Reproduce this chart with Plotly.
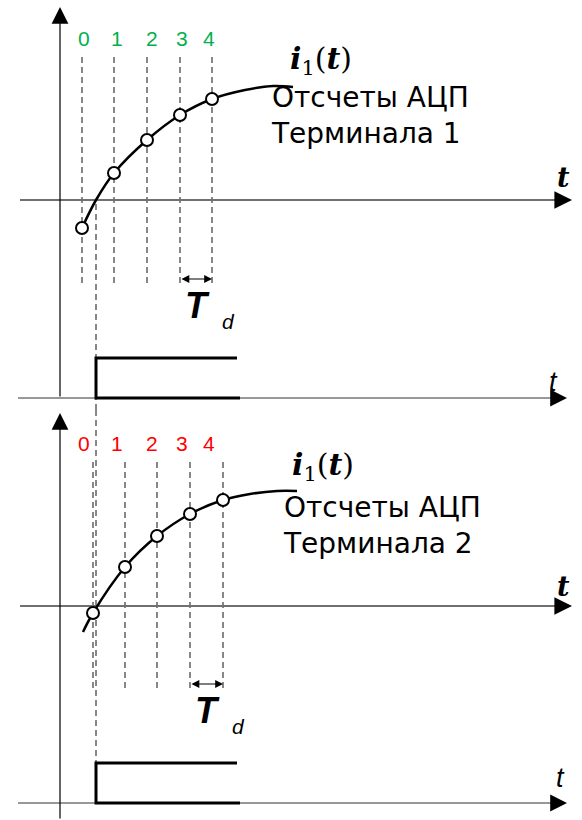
import plotly.graph_objects as go
from plotly.subplots import make_subplots

# ---- signal i1(t) and ADC samples, per terminal (time / current units) ----
curve1_t = [22, 36, 54, 87, 120, 152, 185, 213, 233]
curve1_i = [-28, 0, 27, 60, 85, 101, 110, 114, 113]
samples1_t = [22, 54, 87, 120, 152]
samples1_i = [-28, 27, 60, 85, 101]

curve2_t = [23, 33, 65, 97, 130, 163, 190, 217, 237]
curve2_i = [-26, -7, 39, 70, 92, 106, 112, 115, 115]
samples2_t = [33, 65, 97, 130, 163]
samples2_i = [-7, 39, 70, 92, 106]

sample_labels = ["0", "1", "2", "3", "4"]
label_t = [24, 57, 92, 122, 149]

# trip command: rising edge time, end time and pulse height
trip_t = [180, 36, 36, 177]
trip_level = [0, 0, 40, 40]
trip_edge_t = 36

panels = [
    dict(row=1, curve_t=curve1_t, curve_i=curve1_i, s_t=samples1_t, s_i=samples1_i,
         color="#00B050", title="Отсчеты АЦП<br>Терминала 1",
         yr=[-210, 200], trip_base=-198, dash_top=143, dash_bot=-83, lbl_i=162,
         ax_top=193, ax_bot=-198, cap_t=209, cap_i=85, name_t=228, name_i=140,
         long_top=-4, long_bot=-210, t_lab=(503, 23), trip_lab=(493, 16)),
    dict(row=2, curve_t=curve2_t, curve_i=curve2_i, s_t=samples2_t, s_i=samples2_i,
         color="#FF0000", title="Отсчеты АЦП<br>Терминала 2",
         yr=[-214, 196], trip_base=-197, dash_top=144, dash_bot=-82, lbl_i=163,
         ax_top=193, ax_bot=-214, cap_t=221, cap_i=81, name_t=230, name_i=140,
         long_top=196, long_bot=-157, t_lab=(503, 20), trip_lab=(500, 25)),
]

fig = make_subplots(rows=2, cols=1, vertical_spacing=0)
annotations = []
ARROW = "#000000"
HIDE = dict(hoverinfo="skip", showlegend=False)

for p in panels:
    r = p["row"]
    xr = "x" if r == 1 else "x2"
    yr_ = "y" if r == 1 else "y2"
    # sample instants (dashed)
    dx, dy = [], []
    for t in p["s_t"]:
        dx += [t, t, None]
        dy += [p["dash_top"], p["dash_bot"], None]
    fig.add_trace(go.Scatter(x=dx, y=dy, mode="lines",
                             line=dict(color="#111111", width=1, dash="6px,4px"), **HIDE),
                  row=r, col=1)
    # trip instant (long dashed line)
    fig.add_trace(go.Scatter(x=[trip_edge_t, trip_edge_t], y=[p["long_top"], p["long_bot"]],
                             mode="lines", line=dict(color="#111111", width=1, dash="6px,4px"),
                             **HIDE), row=r, col=1)
    # current axis
    fig.add_trace(go.Scatter(x=[-40, 498], y=[0, 0], mode="lines",
                             line=dict(color="#707070", width=2), **HIDE), row=r, col=1)
    # trip axis
    fig.add_trace(go.Scatter(x=[-42, 495], y=[p["trip_base"], p["trip_base"]], mode="lines",
                             line=dict(color="#333333", width=1.2), **HIDE), row=r, col=1)
    # signal curve
    fig.add_trace(go.Scatter(x=p["curve_t"], y=p["curve_i"], mode="lines",
                             line=dict(color="black", width=2.5, shape="spline", smoothing=1.0),
                             **HIDE), row=r, col=1)
    # ADC samples
    fig.add_trace(go.Scatter(x=p["s_t"], y=p["s_i"], mode="markers",
                             marker=dict(symbol="circle", size=12, color="white",
                                         line=dict(color="black", width=2)), **HIDE),
                  row=r, col=1)
    # trip pulse
    fig.add_trace(go.Scatter(x=trip_t, y=[p["trip_base"] + v for v in trip_level], mode="lines",
                             line=dict(color="black", width=3), **HIDE), row=r, col=1)

    # arrows: vertical axis, current axis, trip axis
    for (hx, hy, tx, ty, w, s) in [
        (0, p["ax_top"], 0, p["ax_bot"], 1.2, 2.8),
        (512, 0, 494, 0, 1.6, 2.2),
        (507, p["trip_base"], 490, p["trip_base"], 1.2, 2.8),
    ]:
        annotations.append(dict(x=hx, y=hy, ax=tx, ay=ty, xref=xr, yref=yr_,
                                axref=xr, ayref=yr_, text="", showarrow=True,
                                arrowhead=2, arrowsize=s,
                                arrowwidth=w, arrowcolor=ARROW, standoff=0))
    # Td interval arrow between samples 3 and 4
    td_i = p["dash_bot"] + 4
    annotations.append(dict(x=p["s_t"][4], y=td_i, ax=p["s_t"][3], ay=td_i,
                            xref=xr, yref=yr_, axref=xr, ayref=yr_, text="",
                            showarrow=True, arrowhead=2, startarrowhead=2,
                            arrowside="end+start", arrowsize=1.3, startarrowsize=1.3,
                            arrowwidth=1.2, arrowcolor=ARROW, standoff=0, startstandoff=0))
    # sample numbers
    for lab, t in zip(sample_labels, label_t):
        annotations.append(dict(x=t, y=p["lbl_i"], xref=xr, yref=yr_, text=lab,
                                showarrow=False,
                                font=dict(family="Liberation Sans", size=21, color=p["color"])))
    # i1(t) label
    annotations.append(dict(x=p["name_t"], y=p["name_i"], xref=xr, yref=yr_,
                            xanchor="left", yanchor="middle", showarrow=False,
                            text="<b><i>i</i></b><sub>1</sub>(<b><i>t</i></b>)",
                            font=dict(family="DejaVu Serif", size=30, color="black")))
    # caption
    annotations.append(dict(x=p["cap_t"], y=p["cap_i"],
                            xref=xr, yref=yr_, xanchor="left", yanchor="middle",
                            showarrow=False, text=p["title"], align="left",
                            font=dict(family="DejaVu Sans", size=28, color="black")))
    # axis letters
    annotations.append(dict(x=p["t_lab"][0], y=p["t_lab"][1], xref=xr, yref=yr_,
                            text="<b><i>t</i></b>", showarrow=False,
                            font=dict(family="DejaVu Serif", size=27, color="black")))
    annotations.append(dict(x=p["trip_lab"][0], y=p["trip_base"] + p["trip_lab"][1],
                            xref=xr, yref=yr_, text="<i>t</i>", showarrow=False,
                            font=dict(family="Liberation Sans", size=27, color="black")))
    # Td label
    td_t = p["s_t"][3] + 17
    annotations.append(dict(x=td_t, y=td_i - 26, xref=xr, yref=yr_,
                            text="<b><i>T</i></b>", showarrow=False,
                            font=dict(family="Liberation Sans", size=36, color="black")))
    annotations.append(dict(x=td_t + 31, y=td_i - 42, xref=xr, yref=yr_,
                            text="<i>d</i>", showarrow=False,
                            font=dict(family="Liberation Sans", size=21, color="black")))

fig.update_layout(
    width=582, height=820,
    margin=dict(l=0, r=0, t=0, b=0),
    paper_bgcolor="white", plot_bgcolor="white",
    showlegend=False,
    annotations=annotations,
    xaxis=dict(range=[-60, 522], visible=False, domain=[0, 1]),
    xaxis2=dict(range=[-60, 522], visible=False, domain=[0, 1]),
    yaxis=dict(range=panels[0]["yr"], visible=False, domain=[0.5, 1]),
    yaxis2=dict(range=panels[1]["yr"], visible=False, domain=[0, 0.5]),
)

fig.write_html("out.html")
